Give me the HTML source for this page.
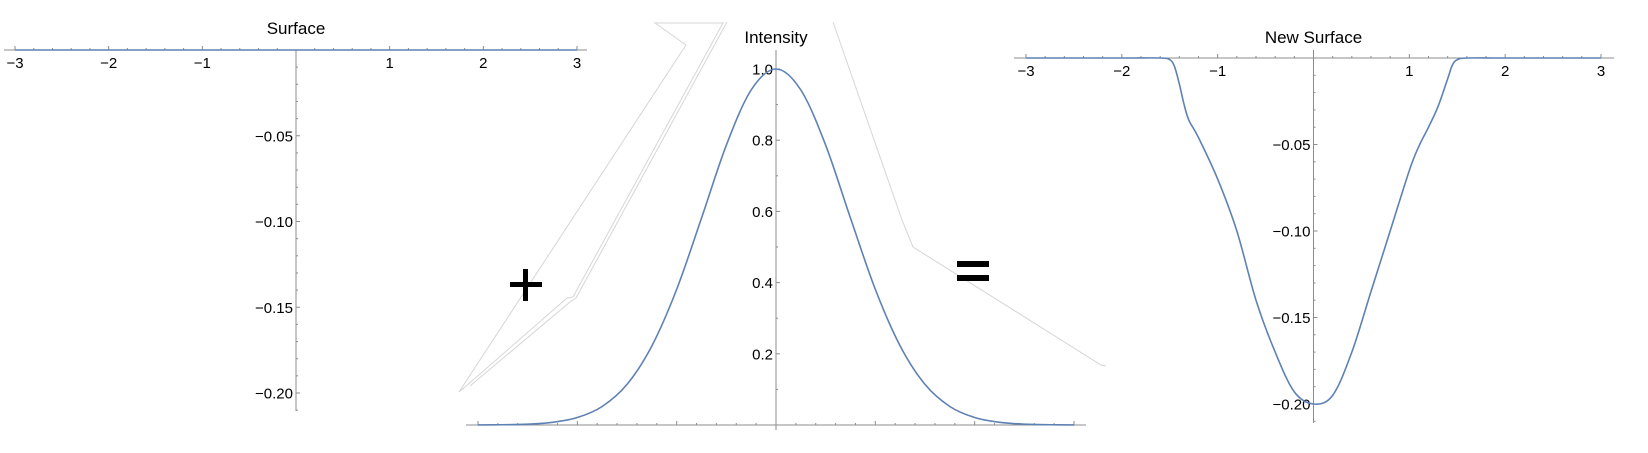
<!DOCTYPE html>
<html><head><meta charset="utf-8"><style>
html,body{margin:0;padding:0;background:#fff;}
svg{display:block;}
text{font-family:"Liberation Sans",sans-serif;fill:#000;}
</style></head><body>
<svg id="c" width="1648" height="453" viewBox="0 0 1648 453" xmlns="http://www.w3.org/2000/svg">
<g fill="none" stroke="#d6d6d6" stroke-width="1">
<polyline points="459,392 686,45 655,23 723,23 573,297 567,298 465,387 459,392"/>
<polyline points="470,386 570,302 576,298 727,22"/>
</g>
<g fill="none" stroke="#d6d6d6" stroke-width="1">
<polyline points="833,22 902,220 913,247 1101,365 1106,366"/>
</g>
<g id="g1"></g>
<g id="g2"></g>
<g id="g3"></g>
<g fill="#000">
<rect x="510" y="282" width="32" height="5"/><rect x="523" y="269" width="5" height="32"/>
</g>
<g fill="#000">
<rect x="957" y="261" width="32" height="6"/><rect x="957" y="275" width="32" height="6"/>
</g>
</svg>
<script>
// Surface (flat zero line)
const surfX = [-3, 3];
const surfY = [0, 0];
const surfYTicks = [-0.05, -0.10, -0.15, -0.20];
const surfYLabels = ["\u22120.05", "\u22120.10", "\u22120.15", "\u22120.20"];
const xTicks = [-3, -2, -1, 1, 2, 3];
const xTickLabels = ["\u22123", "\u22122", "\u22121", "1", "2", "3"];
// Intensity
const intX = [-3,-2.75,-2.5,-2.25,-2,-1.75,-1.5,-1.25,-1,-0.75,-0.5,-0.25,0,0.25,0.5,0.75,1,1.25,1.5,1.75,2,2.25,2.5,2.75,3];
const intY = [0.0002,0.0007,0.0024,0.0076,0.021,0.052,0.114,0.222,0.381,0.581,0.786,0.941,1,0.941,0.786,0.581,0.381,0.222,0.114,0.052,0.021,0.0076,0.0024,0.0007,0.0002];
const intYTicks = [0.2, 0.4, 0.6, 0.8, 1.0];
const intYLabels = ["0.2", "0.4", "0.6", "0.8", "1.0"];
// New surface
const newX = [-3,-2,-1.6,-1.5,-1.45,-1.4,-1.35,-1.3,-1.2,-1.0,-0.8,-0.6,-0.4,-0.2,0,0.2,0.4,0.6,0.8,1.0,1.1,1.2,1.3,1.4,1.45,1.5,1.6,2,3];
const newY = [0,0,0,-0.001,-0.005,-0.015,-0.027,-0.036,-0.046,-0.07,-0.10,-0.14,-0.17,-0.193,-0.20,-0.195,-0.17,-0.135,-0.10,-0.065,-0.051,-0.04,-0.028,-0.012,-0.004,-0.001,0,0,0];
const newYTicks = [-0.05, -0.10, -0.15, -0.20];
const newYLabels = ["\u22120.05", "\u22120.10", "\u22120.15", "\u22120.20"];

const NS = "http://www.w3.org/2000/svg";
function mk(parent, tag, attrs){const e=document.createElementNS(NS,tag);for(const k in attrs)e.setAttribute(k,attrs[k]);parent.appendChild(e);return e;}
function lin(d0,d1,r0,r1){return v=>r0+(v-d0)/(d1-d0)*(r1-r0);}
function pathFrom(xs,ys,sx,sy){
  const p=xs.map((x,i)=>[sx(x),sy(ys[i])]);
  let d="M"+p[0][0].toFixed(2)+","+p[0][1].toFixed(2);
  for(let i=0;i<p.length-1;i++){
    const p0=p[Math.max(0,i-1)],p1=p[i],p2=p[i+1],p3=p[Math.min(p.length-1,i+2)];
    const c1=[p1[0]+(p2[0]-p0[0])/6,p1[1]+(p2[1]-p0[1])/6];
    const c2=[p2[0]-(p3[0]-p1[0])/6,p2[1]-(p3[1]-p1[1])/6];
    d+=" C"+c1.map(v=>v.toFixed(2)).join(",")+" "+c2.map(v=>v.toFixed(2)).join(",")+" "+p2.map(v=>v.toFixed(2)).join(",");
  }
  return d;
}
const AX="#8c8c8c";

function chart(g, cfg){
  const sx=lin(-3,3,cfg.x0,cfg.x1), sy=lin(cfg.yd0,cfg.yd1,cfg.yr0,cfg.yr1);
  const ay=sx(0);
  const t=mk(g,"text",{x:ay,y:cfg.titleY,"text-anchor":"middle","font-size":"17"});
  t.textContent=cfg.title;
  
  
  const xa=mk(g,"line",{x1:cfg.xl0,x2:cfg.xl1,y1:cfg.xAxisY,y2:cfg.xAxisY,stroke:AX,"stroke-width":1});
  
  
  for(let k=-15;k<=15;k++){
    const v=k/5, X=sx(v), major=(k%5===0);
    if(k===0)continue;
    mk(g,"line",{x1:X,x2:X,y1:cfg.xAxisY,y2:cfg.xAxisY-(major?4:2),stroke:AX,"stroke-width":1});
  }
  if(cfg.xlabels){
    xTicks.forEach((v,i)=>{
      const tt=mk(g,"text",{x:sx(v),y:cfg.xAxisY+18,"text-anchor":"middle","font-size":"15"});
      tt.textContent=xTickLabels[i];
      
      
    });
  }
  const ya=mk(g,"line",{x1:ay,x2:ay,y1:cfg.yl0,y2:cfg.yl1,stroke:AX,"stroke-width":1});
  
  
  for(let k=1;k<=cfg.minorN;k++){
    const v=k*cfg.minorStep, Y=sy(v);
    const major=(k%cfg.majorEvery===0);
    mk(g,"line",{x1:ay,x2:ay+(major?4:2),y1:Y,y2:Y,stroke:AX,"stroke-width":1});
  }
  cfg.yt.forEach((v,i)=>{
    const tt=mk(g,"text",{x:ay-3,y:sy(v)+5.5,"text-anchor":"end","font-size":"15"});
    tt.textContent=cfg.yl[i];
    
    
  });
  const c=mk(g,"path",{d:pathFrom(cfg.xs,cfg.ys,sx,sy),fill:"none",stroke:"#5e81b5","stroke-width":1.6});
  
  
}

chart(document.getElementById("g1"),{title:"Surface",titleY:34,x0:15,x1:577,yd0:0,yd1:-0.2,yr0:50,yr1:393,
  xAxisY:50,xl0:4,xl1:587,xlabels:true,yl0:50,yl1:411,minorN:21,minorStep:-0.01,majorEvery:5,
  yt:surfYTicks,yl:surfYLabels,xs:surfX,ys:surfY,curveName:"surface-curve"});
chart(document.getElementById("g2"),{title:"Intensity",titleY:43,x0:478,x1:1074,yd0:0,yd1:1,yr0:425,yr1:69,
  xAxisY:425,xl0:466,xl1:1086,xlabels:false,yl0:50,yl1:430,minorN:10,minorStep:0.1,majorEvery:2,
  yt:intYTicks,yl:intYLabels,xs:intX,ys:intY,curveName:"intensity-curve"});
chart(document.getElementById("g3"),{title:"New Surface",titleY:43,x0:1026,x1:1601,yd0:0,yd1:-0.2,yr0:58,yr1:404,
  xAxisY:58,xl0:1014,xl1:1614,xlabels:true,yl0:50,yl1:423,minorN:21,minorStep:-0.01,majorEvery:5,
  yt:newYTicks,yl:newYLabels,xs:newX,ys:newY,curveName:"new-surface-curve"});
</script>
</body></html>
